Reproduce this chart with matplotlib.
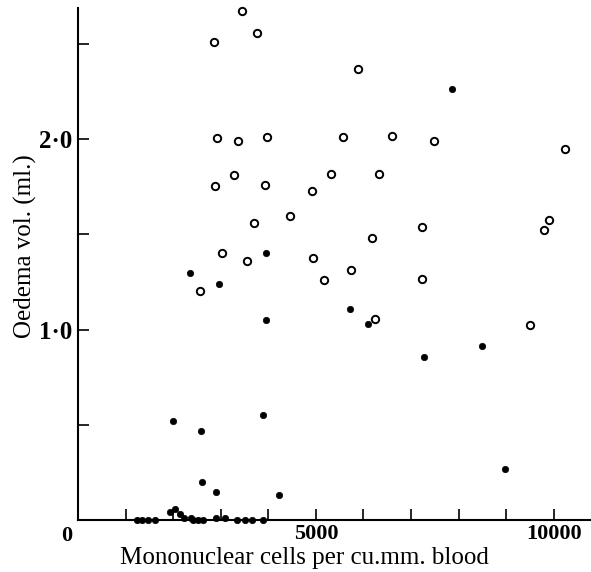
#!/usr/bin/env python

import numpy as np
import matplotlib
matplotlib.use("Agg")
import matplotlib.pyplot as plt

plt.rcParams["font.family"] = ["Liberation Serif", "DejaVu Serif"]

# open circles (cells per cu.mm., oedema ml)
open_x = [3452, 3767, 2851, 5882, 2926, 3355, 3977, 5574, 6597, 7479,
          10231, 3284, 2872, 3935, 5315, 6324, 4916, 3704, 4447, 9910,
          9790, 7227, 6176, 3025, 3550, 4937, 5735, 5168, 7227, 2569,
          6239, 9496]
open_y = [2.674, 2.558, 2.508, 2.367, 2.005, 1.988, 2.011, 2.011, 2.014, 1.990,
          1.948, 1.811, 1.755, 1.759, 1.816, 1.816, 1.727, 1.559, 1.594, 1.575,
          1.522, 1.538, 1.480, 1.400, 1.360, 1.375, 1.312, 1.260, 1.265, 1.200,
          1.055, 1.025]

# filled dots
fill_x = [7872, 3943, 2347, 2962, 3956, 5721, 6092, 7284, 8487, 2002,
          2584, 3880, 2605, 2893, 4223, 8977,
          1233, 1338, 1464, 1618, 1933, 2038, 2143, 2227, 2374, 2416,
          2521, 2632, 2893, 3088, 3334, 3508, 3649, 3893]
fill_y = [2.263, 1.402, 1.298, 1.239, 1.050, 1.108, 1.030, 0.856, 0.913, 0.520,
          0.466, 0.553, 0.201, 0.145, 0.131, 0.268,
          0.0, 0.0, 0.0, 0.0, 0.04, 0.06, 0.03, 0.01, 0.01, 0.0,
          0.0, 0.0, 0.01, 0.01, 0.0, 0.0, 0.0, 0.0]

xticks = np.arange(1000, 10001, 1000)
xticklabels = ["5000" if t == 5000 else "10000" if t == 10000 else "" for t in xticks]
yticks = [0.5, 1.0, 1.5, 2.0, 2.5]
yticklabels = ["", "1\u00b70", "", "2\u00b70", ""]

fig = plt.figure(figsize=(5.91, 5.72), dpi=100)
ax = fig.add_axes([0.132, 0.0909, 0.866, 0.895])

ax.plot(open_x, open_y, 'o', ms=5.3, mfc='white', mec='k', mew=1.4, clip_on=False)
ax.plot(fill_x, fill_y, 'o', ms=4.6, mfc='k', mec='k', mew=0.5, clip_on=False)

ax.set_xlim(0, 10760)
ax.set_ylim(0, 2.688)

for s in ['top', 'right']:
    ax.spines[s].set_visible(False)
for s in ['left', 'bottom']:
    ax.spines[s].set_linewidth(1.5)

ax.set_xticks(xticks)
ax.set_xticklabels(xticklabels, fontsize=16, fontweight='bold')
ax.set_yticks(yticks)
ax.set_yticklabels(yticklabels, fontsize=18, fontweight='bold')
ax.tick_params(direction='in', length=8, width=1.2, pad=3)
ax.tick_params(axis='y', pad=4)

# origin label
ax.annotate("0", xy=(0, 0), xytext=(-8, -4), textcoords='offset points',
            ha='center', va='top', fontsize=16, fontweight='bold')

ax.set_xlabel('Mononuclear cells per cu.mm. blood', fontsize=18)
ax.xaxis.set_label_coords(0.443, -0.053)
ax.set_ylabel('Oedema vol. (ml.)', fontsize=18)
ax.yaxis.set_label_coords(-0.08, 0.535)

plt.savefig('out.png', dpi=100)
